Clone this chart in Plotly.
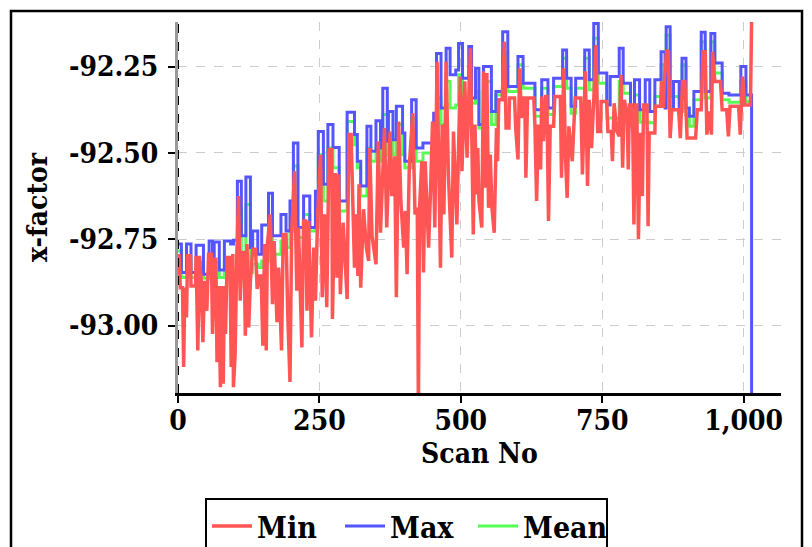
import plotly.graph_objects as go

# ---- Max series (step breakpoints: scan, value) ----
max_scan = [0, 6, 15, 23, 32, 45, 55, 61, 64, 73, 82, 93, 98, 105, 112, 120, 128, 132, 141, 148,
            160, 167, 182, 191, 198, 204, 212, 222, 233, 243, 248, 257, 265, 274, 285, 299, 312, 317,
            323, 334, 341, 350, 358, 362, 370, 372, 380, 386, 397, 401, 413, 421, 433, 452, 457, 465,
            474, 481, 491, 496, 503, 514, 519, 526, 532, 540, 554, 562, 574, 583, 601, 610, 631, 643,
            654, 664, 680, 687, 695, 703, 719, 727, 735, 743, 758, 764, 780, 787, 800, 807, 816, 826,
            834, 843, 854, 861, 863, 870, 876, 886, 891, 898, 904, 912, 925, 932, 942, 949, 962, 974,
            995, 1004, 1014]
max_vals = [-92.764, -92.846, -92.764, -92.846, -92.767, -92.851, -92.755, -92.841, -92.758, -92.839,
            -92.755, -92.764, -92.753, -92.582, -92.740, -92.570, -92.774, -92.726, -92.793, -92.709,
            -92.617, -92.740, -92.678, -92.726, -92.639, -92.471, -92.716, -92.625, -92.716, -92.611,
            -92.438, -92.591, -92.418, -92.484, -92.639, -92.382, -92.447, -92.524, -92.596, -92.423,
            -92.495, -92.407, -92.486, -92.313, -92.466, -92.380, -92.462, -92.365, -92.442, -92.524,
            -92.346, -92.486, -92.471, -92.385, -92.212, -92.370, -92.197, -92.274, -92.260, -92.183,
            -92.284, -92.192, -92.341, -92.255, -92.418, -92.250, -92.380, -92.322, -92.149, -92.308,
            -92.221, -92.298, -92.375, -92.288, -92.370, -92.284, -92.202, -92.284, -92.365, -92.284,
            -92.202, -92.288, -92.125, -92.269, -92.361, -92.279, -92.197, -92.298, -92.370, -92.288,
            -92.375, -92.288, -92.380, -92.288, -92.207, -92.370, -92.135, -92.375, -92.293, -92.380,
            -92.226, -92.370, -92.394, -92.322, -92.151, -92.322, -92.154, -92.240, -92.327, -92.332,
            -92.250, -92.332, -93.600]

# ---- Mean series (step breakpoints: scan, value) ----
mean_scan = max_scan
mean_vals = [-92.784, -92.861, -92.813, -92.861, -92.817, -92.863, -92.813, -92.861, -92.817, -92.861,
             -92.817, -92.856, -92.841, -92.659, -92.841, -92.649, -92.846, -92.822, -92.832, -92.813,
             -92.697, -92.793, -92.755, -92.774, -92.726, -92.538, -92.745, -92.678, -92.726, -92.659,
             -92.505, -92.639, -92.486, -92.543, -92.668, -92.409, -92.476, -92.543, -92.625, -92.486,
             -92.524, -92.486, -92.524, -92.389, -92.505, -92.447, -92.505, -92.418, -92.505, -92.543,
             -92.399, -92.524, -92.500, -92.476, -92.341, -92.418, -92.293, -92.370, -92.361, -92.274,
             -92.351, -92.264, -92.356, -92.322, -92.428, -92.293, -92.418, -92.332, -92.207, -92.322,
             -92.245, -92.313, -92.394, -92.313, -92.389, -92.308, -92.226, -92.313, -92.385, -92.313,
             -92.226, -92.317, -92.168, -92.298, -92.399, -92.399, -92.293, -92.327, -92.409, -92.332,
             -92.411, -92.411, -92.413, -92.337, -92.245, -92.337, -92.159, -92.337, -92.337, -92.341,
             -92.245, -92.389, -92.423, -92.346, -92.178, -92.341, -92.178, -92.269, -92.346, -92.353,
             -92.293, -92.351, -92.351]

# ---- Min series (scan, value) ----
min_scan = [0, 2, 4, 8, 10, 12, 15, 17, 22, 23, 31, 32, 35, 38, 41, 44, 47, 51, 54, 59, 61, 65, 67, 69,
            72, 75, 77, 80, 82, 84, 87, 92, 94, 97, 98, 101, 104, 107, 110, 113, 117, 119, 122, 125,
            128, 132, 137, 140, 144, 147, 150, 153, 156, 158, 163, 167, 170, 175, 178, 183, 186, 191,
            194, 198, 201, 206, 210, 213, 219, 222, 226, 228, 231, 236, 240, 243, 247, 252, 255, 259,
            263, 267, 272, 273, 278, 281, 284, 287, 292, 299, 302, 306, 312, 315, 318, 320, 323, 328,
            333, 337, 339, 343, 350, 354, 358, 361, 365, 369, 375, 378, 383, 386, 390, 394, 399, 402,
            405, 409, 415, 419, 423, 425, 427, 431, 434, 437, 443, 446, 450, 454, 458, 464, 467, 470,
            474, 478, 484, 487, 493, 496, 499, 502, 507, 511, 517, 522, 525, 528, 530, 532, 534, 537,
            540, 543, 546, 549, 552, 555, 559, 563, 565, 567, 573, 577, 580, 585, 586, 595, 597, 601,
            604, 607, 610, 613, 615, 618, 629, 631, 634, 637, 640, 641, 643, 646, 650, 652, 655, 658,
            664, 666, 676, 678, 682, 685, 688, 691, 697, 699, 702, 712, 715, 720, 724, 727, 731, 735,
            739, 742, 747, 748, 758, 760, 766, 768, 771, 776, 780, 783, 786, 789, 794, 796, 798, 802,
            804, 806, 809, 811, 814, 817, 821, 823, 829, 831, 833, 843, 844, 853, 855, 858, 860, 864,
            867, 870, 873, 885, 888, 892, 896, 900, 915, 918, 925, 928, 932, 935, 939, 943, 945, 949,
            959, 962, 970, 973, 976, 991, 994, 998, 1002, 1012, 1015]
min_vals = [-92.798, -92.798, -92.890, -92.890, -93.120, -92.890, -92.976, -92.798, -92.798, -92.885,
            -92.885, -92.798, -93.072, -92.798, -92.870, -93.048, -92.870, -92.957, -92.793, -92.793,
            -93.024, -92.808, -92.808, -93.106, -92.885, -93.178, -92.885, -93.168, -92.885, -93.024,
            -92.803, -92.803, -93.120, -92.793, -93.178, -93.082, -92.793, -92.625, -92.928, -92.788,
            -92.788, -93.029, -92.764, -93.005, -92.870, -92.779, -92.779, -92.894, -92.856, -92.856,
            -93.058, -92.764, -93.072, -92.764, -92.678, -92.938, -92.755, -92.990, -92.832, -93.072,
            -92.736, -92.736, -92.966, -93.163, -92.726, -92.553, -92.899, -92.716, -93.063, -92.697,
            -92.697, -92.957, -92.697, -93.034, -92.774, -92.928, -92.678, -92.505, -92.918, -92.678,
            -92.947, -92.490, -92.490, -92.981, -92.558, -92.861, -92.562, -92.909, -92.702, -92.923,
            -92.447, -92.447, -92.832, -92.678, -92.856, -92.591, -92.890, -92.663, -92.774, -92.813,
            -92.486, -92.740, -92.822, -92.466, -92.731, -92.582, -92.428, -92.716, -92.438, -92.625,
            -92.510, -92.918, -92.409, -92.639, -92.774, -92.668, -92.851, -92.534, -92.385, -92.678,
            -92.659, -93.250, -92.659, -92.524, -92.846, -92.524, -92.774, -92.630, -92.409, -92.716,
            -92.236, -92.832, -92.418, -92.678, -92.236, -92.562, -92.803, -92.438, -92.707, -92.486,
            -92.279, -92.553, -92.293, -92.514, -92.197, -92.736, -92.418, -92.620, -92.486, -92.639,
            -92.678, -92.716, -92.264, -92.601, -92.269, -92.659, -92.505, -92.659, -92.731, -92.428,
            -92.524, -92.346, -92.346, -92.178, -92.428, -92.428, -92.341, -92.341, -92.428, -92.519,
            -92.255, -92.399, -92.341, -92.341, -92.572, -92.341, -92.341, -92.423, -92.639, -92.423,
            -92.423, -92.548, -92.337, -92.466, -92.337, -92.337, -92.697, -92.423, -92.423, -92.337,
            -92.337, -92.572, -92.255, -92.514, -92.630, -92.423, -92.524, -92.423, -92.341, -92.341,
            -92.562, -92.264, -92.596, -92.346, -92.486, -92.346, -92.188, -92.438, -92.438, -92.351,
            -92.351, -92.438, -92.438, -92.524, -92.356, -92.438, -92.452, -92.274, -92.543, -92.346,
            -92.389, -92.548, -92.361, -92.361, -92.438, -92.707, -92.361, -92.361, -92.750, -92.442,
            -92.625, -92.361, -92.361, -92.712, -92.442, -92.442, -92.365, -92.365, -92.293, -92.370,
            -92.284, -92.202, -92.207, -92.457, -92.375, -92.375, -92.457, -92.293, -92.293, -92.457,
            -92.457, -92.375, -92.375, -92.207, -92.207, -92.447, -92.380, -92.447, -92.207, -92.293,
            -92.293, -92.375, -92.375, -92.452, -92.365, -92.365, -92.447, -92.279, -92.361, -92.361,
            -92.000]

x_ticks = [0, 250, 500, 750, 1000]
x_labels = ["0", "250", "500", "750", "1,000"]
y_ticks = [-93.0, -92.75, -92.5, -92.25]
y_labels = ["-93.00", "-92.75", "-92.50", "-92.25"]

FONT = "DejaVu Serif Condensed, DejaVu Serif, serif"

W, H = 797, 539
L, R, T, B = 170, 24, 14, 154
PW, PH = W - L - R, H - T - B

fig = go.Figure()
fig.add_trace(go.Scatter(x=mean_scan, y=mean_vals, mode="lines", name="Mean",
                         line=dict(color="#55ff55", width=3, shape="hv")))
fig.add_trace(go.Scatter(x=max_scan, y=max_vals, mode="lines", name="Max",
                         line=dict(color="#5555ff", width=3, shape="hv")))
fig.add_trace(go.Scatter(x=min_scan, y=min_vals, mode="lines", name="Min",
                         line=dict(color="#ff5555", width=3.5)))

axis_common = dict(showgrid=True, gridcolor="#cccccc", griddash="dash", gridwidth=1,
                   ticks="outside", ticklen=7, tickwidth=2, tickcolor="black",
                   tickfont=dict(family=FONT, size=28, color="black", weight="bold"),
                   zeroline=False)

fig.update_xaxes(range=[0, 1066], tickvals=x_ticks, ticktext=x_labels,
                 showline=True, linecolor="black", linewidth=3, ticklabelstandoff=-7,
                 title=dict(text="Scan No", font=dict(family=FONT, size=28, color="black", weight="bold"),
                            standoff=6),
                 **axis_common)
fig.update_yaxes(range=[-93.195, -92.121], tickvals=y_ticks, ticktext=y_labels,
                 showline=True, linecolor="#999999", linewidth=3, ticklabelstandoff=4,
                 title=dict(text="x-factor", font=dict(family=FONT, size=28, color="black", weight="bold"),
                            standoff=14),
                 **axis_common)

fig.add_shape(type="line", xref="x", yref="paper", x0=0, x1=0, y0=0, y1=1,
              line=dict(color="black", width=2, dash="dash"))
# figure frame
fig.add_shape(type="rect", xref="paper", yref="paper",
              x0=(3 - L) / PW, x1=(794 - L) / PW,
              y0=-0.6, y1=(PH + T - 3) / PH,
              line=dict(color="black", width=2.5), fillcolor="rgba(0,0,0,0)", layer="above")

fig.update_layout(
    width=W, height=H,
    margin=dict(l=L, r=R, t=T, b=B, autoexpand=False),
    paper_bgcolor="white", plot_bgcolor="white",
    showlegend=True,
    legend=dict(orientation="h", x=(398.5 - L) / PW, xanchor="center",
                y=-(490 - T - PH) / PH, yanchor="top",
                traceorder="reversed", itemwidth=40, entrywidth=78,
                bordercolor="black", borderwidth=2, bgcolor="white",
                font=dict(family=FONT, size=30, color="black", weight="bold")),
)

fig.write_html("out.html")
